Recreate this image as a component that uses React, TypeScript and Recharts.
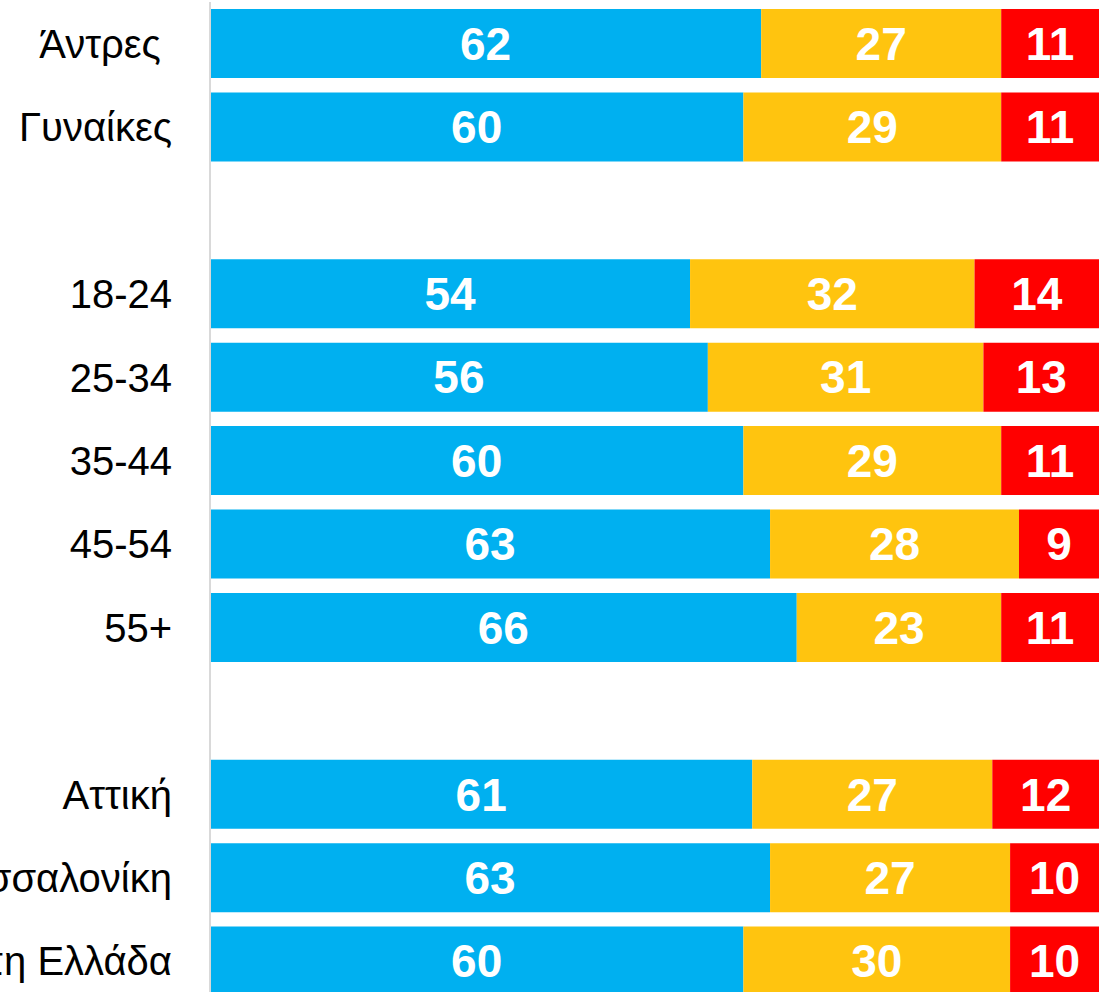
import { BarChart, Bar, XAxis, YAxis, LabelList } from "recharts";

// rows top to bottom; empty strings are the spacer rows between groups
const categories = [
  "Άντρες\u00A0",
  "Γυναίκες",
  "",
  "18-24",
  "25-34",
  "35-44",
  "45-54",
  "55+",
  "",
  "Αττική",
  "Θεσσαλονίκη",
  "Υπόλοιπη Ελλάδα",
];

const positive = [62, 60, null, 54, 56, 60, 63, 66, null, 61, 63, 60];
const neutral = [27, 29, null, 32, 31, 29, 28, 23, null, 27, 27, 30];
const negative = [11, 11, null, 14, 13, 11, 9, 11, null, 12, 10, 10];

const SERIES = [
  { key: "positive", color: "#00B0F0" },
  { key: "neutral", color: "#FFC40F" },
  { key: "negative", color: "#FF0000" },
];

const FONT = '"Liberation Sans", Arial, sans-serif';

export default function App() {
  const data = categories.map((name, i) => ({
    name,
    positive: positive[i],
    neutral: neutral[i],
    negative: negative[i],
  }));

  return (
    <div
      style={{
        position: "absolute",
        left: 0,
        top: 0,
        width: 1099,
        height: 992,
        overflow: "hidden",
        background: "#fff",
      }}
    >
      <BarChart
        width={1099}
        height={1003}
        data={data}
        layout="vertical"
        margin={{ top: 2, right: 0, bottom: 0, left: 0 }}
      >
        <XAxis type="number" domain={[0, 100]} hide />
        <YAxis
          type="category"
          dataKey="name"
          width={210}
          tickLine={false}
          tickMargin={32}
          axisLine={{ stroke: "#d9d9d9", strokeWidth: 2 }}
          tick={{ fontSize: 40, fill: "#000", fontFamily: FONT }}
          interval={0}
        />
        {SERIES.map((s) => (
          <Bar
            key={s.key}
            dataKey={s.key}
            stackId="a"
            fill={s.color}
            barSize={69}
            isAnimationActive={false}
          >
            <LabelList
              dataKey={s.key}
              position="center"
              fill="#fff"
              fontSize={46}
              fontWeight="bold"
              fontFamily={FONT}
              formatter={(v: any) => (v == null ? "" : v)}
            />
          </Bar>
        ))}
      </BarChart>
    </div>
  );
}
